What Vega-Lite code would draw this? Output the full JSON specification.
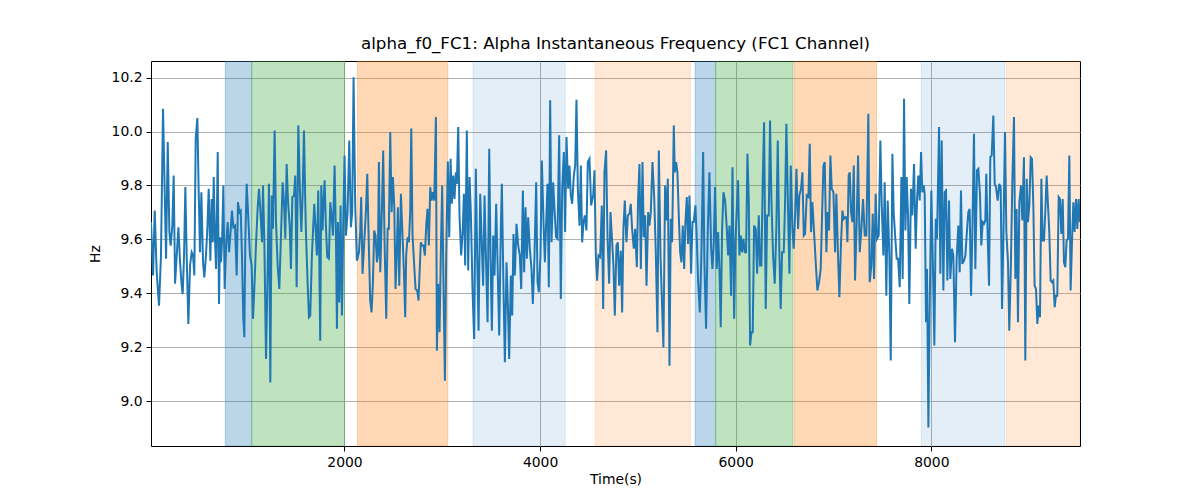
{
  "$schema": "https://vega.github.io/schema/vega-lite/v6.json",
  "width": 929,
  "height": 385,
  "autosize": {"type": "none"},
  "padding": {"left": 151, "top": 61, "right": 120, "bottom": 54},
  "title": {
    "text": "alpha_f0_FC1: Alpha Instantaneous Frequency (FC1 Channel)",
    "fontSize": 16.7,
    "fontWeight": "normal",
    "font": "DejaVu Sans",
    "color": "black",
    "offset": 8
  },
  "datasets": {
    "spans": [
      {"start": 782, "end": 1052, "phase": "A"},
      {"start": 1052, "end": 2000, "phase": "B"},
      {"start": 2133, "end": 3057, "phase": "C"},
      {"start": 3315, "end": 4257, "phase": "D"},
      {"start": 4563, "end": 5536, "phase": "E"},
      {"start": 5585, "end": 5795, "phase": "A"},
      {"start": 5795, "end": 6586, "phase": "B"},
      {"start": 6598, "end": 7440, "phase": "C"},
      {"start": 7897, "end": 8753, "phase": "D"},
      {"start": 8768, "end": 9520, "phase": "E"}
    ],
    "freq": [
      {"t":22,"hz":9.664},{"t":43,"hz":9.466},{"t":60,"hz":9.707},{"t":80,"hz":9.478},{"t":104,"hz":9.354},{"t":124,"hz":9.540},{"t":145,"hz":10.085},{"t":176,"hz":9.528},{"t":193,"hz":9.961},{"t":210,"hz":9.627},
      {"t":223,"hz":9.577},{"t":240,"hz":9.651},{"t":254,"hz":9.837},{"t":268,"hz":9.435},{"t":285,"hz":9.540},{"t":302,"hz":9.645},{"t":319,"hz":9.515},{"t":336,"hz":9.428},{"t":346,"hz":9.397},{"t":360,"hz":9.540},
      {"t":373,"hz":9.794},{"t":390,"hz":9.490},{"t":404,"hz":9.286},{"t":421,"hz":9.503},{"t":438,"hz":9.552},{"t":452,"hz":9.540},{"t":465,"hz":9.466},{"t":479,"hz":9.973},{"t":496,"hz":10.050},{"t":509,"hz":9.788},
      {"t":523,"hz":9.552},{"t":537,"hz":9.775},{"t":554,"hz":9.515},{"t":567,"hz":9.459},{"t":584,"hz":9.540},{"t":598,"hz":9.639},{"t":612,"hz":9.788},{"t":629,"hz":9.521},{"t":642,"hz":9.750},{"t":653,"hz":9.589},
      {"t":663,"hz":9.831},{"t":676,"hz":9.602},{"t":687,"hz":9.490},{"t":697,"hz":9.726},{"t":704,"hz":9.924},{"t":717,"hz":9.360},{"t":728,"hz":9.608},{"t":738,"hz":9.515},{"t":748,"hz":9.589},{"t":762,"hz":9.800},
      {"t":775,"hz":9.416},{"t":792,"hz":9.589},{"t":806,"hz":9.664},{"t":820,"hz":9.552},{"t":833,"hz":9.614},{"t":850,"hz":9.707},{"t":864,"hz":9.645},{"t":881,"hz":9.651},{"t":898,"hz":9.466},{"t":911,"hz":9.738},
      {"t":925,"hz":9.701},{"t":939,"hz":9.707},{"t":952,"hz":9.540},{"t":966,"hz":9.305},{"t":976,"hz":9.237},{"t":986,"hz":9.589},{"t":1000,"hz":9.806},{"t":1017,"hz":9.676},{"t":1034,"hz":9.540},{"t":1051,"hz":9.503},
      {"t":1065,"hz":9.305},{"t":1078,"hz":9.416},{"t":1095,"hz":9.577},{"t":1112,"hz":9.713},{"t":1126,"hz":9.788},{"t":1143,"hz":9.689},{"t":1157,"hz":9.589},{"t":1167,"hz":9.800},{"t":1181,"hz":9.589},{"t":1198,"hz":9.156},
      {"t":1215,"hz":9.490},{"t":1228,"hz":9.806},{"t":1242,"hz":9.069},{"t":1256,"hz":9.763},{"t":1269,"hz":9.639},{"t":1286,"hz":10.004},{"t":1300,"hz":9.664},{"t":1317,"hz":9.503},{"t":1334,"hz":9.416},{"t":1351,"hz":9.614},
      {"t":1368,"hz":9.812},{"t":1382,"hz":9.738},{"t":1395,"hz":9.602},{"t":1409,"hz":9.880},{"t":1423,"hz":9.738},{"t":1440,"hz":9.651},{"t":1453,"hz":9.490},{"t":1467,"hz":9.757},{"t":1484,"hz":9.763},{"t":1497,"hz":9.837},
      {"t":1511,"hz":9.422},{"t":1528,"hz":10.023},{"t":1545,"hz":9.775},{"t":1559,"hz":9.627},{"t":1572,"hz":9.763},{"t":1586,"hz":10.004},{"t":1600,"hz":9.726},{"t":1606,"hz":9.627},{"t":1623,"hz":9.441},{"t":1637,"hz":9.311},
      {"t":1650,"hz":9.317},{"t":1667,"hz":9.540},{"t":1691,"hz":9.732},{"t":1705,"hz":9.639},{"t":1718,"hz":9.540},{"t":1732,"hz":9.781},{"t":1742,"hz":9.540},{"t":1752,"hz":9.224},{"t":1763,"hz":9.800},{"t":1776,"hz":9.633},
      {"t":1786,"hz":9.738},{"t":1797,"hz":9.819},{"t":1810,"hz":9.651},{"t":1824,"hz":9.534},{"t":1841,"hz":9.528},{"t":1855,"hz":9.738},{"t":1868,"hz":9.689},{"t":1882,"hz":9.614},{"t":1899,"hz":9.874},{"t":1913,"hz":9.608},
      {"t":1923,"hz":9.268},{"t":1933,"hz":9.664},{"t":1947,"hz":9.366},{"t":1960,"hz":9.726},{"t":1974,"hz":9.317},{"t":1988,"hz":9.664},{"t":2001,"hz":9.911},{"t":2015,"hz":9.614},{"t":2032,"hz":9.701},{"t":2049,"hz":9.967},
      {"t":2066,"hz":9.645},{"t":2079,"hz":9.701},{"t":2093,"hz":10.202},{"t":2110,"hz":9.726},{"t":2127,"hz":9.521},{"t":2148,"hz":9.552},{"t":2161,"hz":9.627},{"t":2171,"hz":9.757},{"t":2185,"hz":9.472},{"t":2202,"hz":9.589},
      {"t":2219,"hz":9.701},{"t":2233,"hz":9.843},{"t":2250,"hz":9.565},{"t":2263,"hz":9.373},{"t":2277,"hz":9.329},{"t":2291,"hz":9.441},{"t":2304,"hz":9.633},{"t":2318,"hz":9.614},{"t":2332,"hz":9.515},{"t":2342,"hz":9.540},
      {"t":2352,"hz":9.887},{"t":2366,"hz":9.478},{"t":2383,"hz":9.713},{"t":2396,"hz":9.930},{"t":2410,"hz":9.589},{"t":2427,"hz":9.305},{"t":2441,"hz":9.639},{"t":2454,"hz":9.639},{"t":2468,"hz":9.998},{"t":2482,"hz":9.701},
      {"t":2495,"hz":9.831},{"t":2509,"hz":9.726},{"t":2522,"hz":9.416},{"t":2536,"hz":9.565},{"t":2546,"hz":9.719},{"t":2560,"hz":9.428},{"t":2577,"hz":9.769},{"t":2591,"hz":9.639},{"t":2608,"hz":9.478},{"t":2621,"hz":9.311},
      {"t":2631,"hz":9.540},{"t":2645,"hz":9.608},{"t":2659,"hz":9.589},{"t":2672,"hz":9.701},{"t":2683,"hz":10.011},{"t":2696,"hz":9.614},{"t":2713,"hz":9.503},{"t":2727,"hz":9.416},{"t":2744,"hz":9.410},{"t":2757,"hz":9.373},
      {"t":2768,"hz":9.478},{"t":2781,"hz":9.589},{"t":2795,"hz":9.577},{"t":2809,"hz":9.577},{"t":2822,"hz":9.540},{"t":2836,"hz":9.651},{"t":2849,"hz":9.713},{"t":2863,"hz":9.577},{"t":2877,"hz":9.794},{"t":2890,"hz":9.744},
      {"t":2904,"hz":9.775},{"t":2918,"hz":9.744},{"t":2935,"hz":10.054},{"t":2945,"hz":9.187},{"t":2958,"hz":9.435},{"t":2972,"hz":9.255},{"t":2986,"hz":9.565},{"t":2999,"hz":9.800},{"t":3013,"hz":9.416},{"t":3027,"hz":9.075},
      {"t":3040,"hz":9.540},{"t":3057,"hz":9.889},{"t":3071,"hz":9.608},{"t":3085,"hz":9.899},{"t":3098,"hz":9.732},{"t":3112,"hz":9.837},{"t":3125,"hz":9.750},{"t":3139,"hz":9.849},{"t":3149,"hz":9.806},{"t":3163,"hz":10.017},
      {"t":3176,"hz":9.689},{"t":3193,"hz":9.540},{"t":3210,"hz":9.639},{"t":3221,"hz":9.769},{"t":3234,"hz":9.503},{"t":3251,"hz":10.004},{"t":3265,"hz":9.484},{"t":3279,"hz":9.831},{"t":3292,"hz":9.701},{"t":3309,"hz":9.416},
      {"t":3326,"hz":9.230},{"t":3343,"hz":9.862},{"t":3357,"hz":9.540},{"t":3371,"hz":9.261},{"t":3388,"hz":9.769},{"t":3405,"hz":9.565},{"t":3418,"hz":9.428},{"t":3432,"hz":9.763},{"t":3446,"hz":9.540},{"t":3463,"hz":9.292},
      {"t":3480,"hz":9.936},{"t":3493,"hz":9.540},{"t":3507,"hz":9.261},{"t":3521,"hz":9.614},{"t":3534,"hz":9.466},{"t":3551,"hz":9.732},{"t":3565,"hz":9.515},{"t":3582,"hz":9.243},{"t":3599,"hz":9.651},{"t":3609,"hz":9.806},
      {"t":3626,"hz":9.416},{"t":3640,"hz":9.144},{"t":3657,"hz":9.515},{"t":3670,"hz":9.366},{"t":3684,"hz":9.156},{"t":3701,"hz":9.466},{"t":3715,"hz":9.317},{"t":3728,"hz":9.620},{"t":3742,"hz":9.466},{"t":3759,"hz":9.658},
      {"t":3776,"hz":9.577},{"t":3793,"hz":9.540},{"t":3807,"hz":9.416},{"t":3824,"hz":9.781},{"t":3837,"hz":9.478},{"t":3851,"hz":9.719},{"t":3865,"hz":9.528},{"t":3878,"hz":9.682},{"t":3895,"hz":9.565},{"t":3912,"hz":9.490},
      {"t":3926,"hz":9.360},{"t":3943,"hz":9.540},{"t":3960,"hz":9.812},{"t":3974,"hz":9.441},{"t":3987,"hz":9.404},{"t":4004,"hz":9.540},{"t":4018,"hz":9.893},{"t":4035,"hz":9.664},{"t":4049,"hz":9.515},{"t":4062,"hz":9.658},
      {"t":4076,"hz":9.806},{"t":4089,"hz":9.422},{"t":4103,"hz":10.116},{"t":4117,"hz":9.589},{"t":4134,"hz":9.812},{"t":4147,"hz":9.713},{"t":4164,"hz":9.608},{"t":4178,"hz":9.602},{"t":4195,"hz":9.986},{"t":4212,"hz":9.379},
      {"t":4226,"hz":9.788},{"t":4243,"hz":9.924},{"t":4256,"hz":9.627},{"t":4270,"hz":9.980},{"t":4287,"hz":9.788},{"t":4301,"hz":9.874},{"t":4314,"hz":9.763},{"t":4328,"hz":9.732},{"t":4345,"hz":9.837},{"t":4359,"hz":9.874},
      {"t":4372,"hz":10.118},{"t":4386,"hz":9.788},{"t":4403,"hz":9.651},{"t":4417,"hz":9.874},{"t":4430,"hz":9.589},{"t":4444,"hz":9.664},{"t":4457,"hz":9.689},{"t":4474,"hz":9.633},{"t":4488,"hz":9.887},{"t":4505,"hz":9.899},
      {"t":4522,"hz":9.726},{"t":4543,"hz":9.763},{"t":4556,"hz":9.856},{"t":4570,"hz":9.540},{"t":4583,"hz":9.447},{"t":4597,"hz":9.540},{"t":4614,"hz":9.534},{"t":4631,"hz":9.726},{"t":4645,"hz":9.342},{"t":4658,"hz":9.849},
      {"t":4675,"hz":9.930},{"t":4689,"hz":9.614},{"t":4706,"hz":9.435},{"t":4720,"hz":9.701},{"t":4737,"hz":9.589},{"t":4750,"hz":9.503},{"t":4764,"hz":9.317},{"t":4781,"hz":9.577},{"t":4795,"hz":9.589},{"t":4808,"hz":9.428},
      {"t":4825,"hz":9.558},{"t":4839,"hz":9.329},{"t":4852,"hz":9.639},{"t":4866,"hz":9.744},{"t":4883,"hz":9.589},{"t":4897,"hz":9.689},{"t":4914,"hz":9.695},{"t":4927,"hz":9.732},{"t":4941,"hz":9.639},{"t":4958,"hz":9.565},
      {"t":4972,"hz":9.639},{"t":4989,"hz":9.497},{"t":5002,"hz":9.750},{"t":5016,"hz":9.880},{"t":5030,"hz":9.490},{"t":5047,"hz":9.887},{"t":5060,"hz":9.608},{"t":5074,"hz":9.689},{"t":5088,"hz":9.428},{"t":5105,"hz":9.701},
      {"t":5118,"hz":9.651},{"t":5132,"hz":9.701},{"t":5149,"hz":9.887},{"t":5166,"hz":9.763},{"t":5183,"hz":9.552},{"t":5200,"hz":9.255},{"t":5214,"hz":9.930},{"t":5231,"hz":9.540},{"t":5244,"hz":9.391},{"t":5261,"hz":9.199},
      {"t":5278,"hz":9.800},{"t":5292,"hz":9.670},{"t":5306,"hz":9.825},{"t":5323,"hz":9.131},{"t":5336,"hz":9.676},{"t":5350,"hz":9.589},{"t":5367,"hz":10.023},{"t":5377,"hz":9.849},{"t":5391,"hz":9.887},{"t":5404,"hz":9.849},
      {"t":5418,"hz":9.689},{"t":5432,"hz":9.552},{"t":5445,"hz":9.515},{"t":5459,"hz":9.651},{"t":5473,"hz":9.490},{"t":5486,"hz":9.664},{"t":5500,"hz":9.757},{"t":5513,"hz":9.583},{"t":5527,"hz":9.763},{"t":5544,"hz":9.472},
      {"t":5558,"hz":9.664},{"t":5571,"hz":9.664},{"t":5588,"hz":9.726},{"t":5602,"hz":9.602},{"t":5616,"hz":9.441},{"t":5633,"hz":9.329},{"t":5650,"hz":9.552},{"t":5667,"hz":9.924},{"t":5680,"hz":9.515},{"t":5697,"hz":9.268},
      {"t":5714,"hz":9.627},{"t":5731,"hz":9.849},{"t":5749,"hz":9.565},{"t":5762,"hz":9.490},{"t":5776,"hz":9.589},{"t":5789,"hz":9.794},{"t":5806,"hz":9.490},{"t":5820,"hz":9.627},{"t":5834,"hz":9.484},{"t":5847,"hz":9.274},
      {"t":5861,"hz":9.639},{"t":5875,"hz":9.775},{"t":5892,"hz":9.744},{"t":5909,"hz":9.639},{"t":5922,"hz":9.540},{"t":5936,"hz":9.651},{"t":5953,"hz":9.391},{"t":5967,"hz":9.868},{"t":5984,"hz":9.305},{"t":5997,"hz":9.589},
      {"t":6011,"hz":9.713},{"t":6024,"hz":9.819},{"t":6038,"hz":9.540},{"t":6052,"hz":9.614},{"t":6065,"hz":9.552},{"t":6079,"hz":9.602},{"t":6093,"hz":9.552},{"t":6106,"hz":9.552},{"t":6120,"hz":9.918},{"t":6134,"hz":9.738},
      {"t":6147,"hz":9.206},{"t":6161,"hz":9.255},{"t":6174,"hz":9.255},{"t":6188,"hz":9.651},{"t":6205,"hz":9.639},{"t":6219,"hz":9.472},{"t":6236,"hz":9.689},{"t":6249,"hz":9.503},{"t":6263,"hz":9.503},{"t":6276,"hz":9.812},
      {"t":6290,"hz":10.035},{"t":6307,"hz":9.342},{"t":6321,"hz":9.689},{"t":6338,"hz":9.689},{"t":6351,"hz":10.041},{"t":6365,"hz":9.750},{"t":6382,"hz":9.540},{"t":6399,"hz":9.435},{"t":6416,"hz":9.651},{"t":6430,"hz":9.967},
      {"t":6447,"hz":9.540},{"t":6460,"hz":9.342},{"t":6474,"hz":9.552},{"t":6491,"hz":9.552},{"t":6505,"hz":9.738},{"t":6518,"hz":10.029},{"t":6535,"hz":9.713},{"t":6549,"hz":9.472},{"t":6563,"hz":9.874},{"t":6580,"hz":9.639},
      {"t":6593,"hz":9.565},{"t":6607,"hz":9.689},{"t":6621,"hz":9.862},{"t":6638,"hz":9.639},{"t":6651,"hz":9.763},{"t":6668,"hz":9.788},{"t":6682,"hz":9.849},{"t":6696,"hz":9.614},{"t":6709,"hz":9.620},{"t":6726,"hz":9.763},
      {"t":6743,"hz":9.757},{"t":6757,"hz":9.955},{"t":6770,"hz":9.627},{"t":6784,"hz":9.738},{"t":6801,"hz":9.627},{"t":6818,"hz":9.515},{"t":6835,"hz":9.410},{"t":6852,"hz":9.441},{"t":6869,"hz":9.490},{"t":6883,"hz":9.689},
      {"t":6897,"hz":9.874},{"t":6910,"hz":9.887},{"t":6927,"hz":9.552},{"t":6941,"hz":9.701},{"t":6954,"hz":9.633},{"t":6968,"hz":9.911},{"t":6982,"hz":9.788},{"t":6999,"hz":9.775},{"t":7016,"hz":9.552},{"t":7029,"hz":9.769},
      {"t":7046,"hz":9.540},{"t":7060,"hz":9.385},{"t":7077,"hz":9.589},{"t":7091,"hz":9.707},{"t":7104,"hz":9.676},{"t":7118,"hz":9.682},{"t":7132,"hz":9.682},{"t":7142,"hz":9.589},{"t":7155,"hz":9.837},{"t":7166,"hz":9.849},
      {"t":7179,"hz":9.701},{"t":7193,"hz":9.664},{"t":7207,"hz":9.874},{"t":7220,"hz":9.447},{"t":7237,"hz":9.664},{"t":7251,"hz":9.911},{"t":7268,"hz":9.552},{"t":7285,"hz":9.639},{"t":7302,"hz":9.750},{"t":7319,"hz":9.614},
      {"t":7336,"hz":9.614},{"t":7356,"hz":10.066},{"t":7370,"hz":9.441},{"t":7387,"hz":9.503},{"t":7401,"hz":9.695},{"t":7414,"hz":9.453},{"t":7431,"hz":9.769},{"t":7445,"hz":9.602},{"t":7462,"hz":9.614},{"t":7479,"hz":9.967},
      {"t":7493,"hz":9.726},{"t":7510,"hz":9.540},{"t":7523,"hz":9.812},{"t":7540,"hz":9.391},{"t":7554,"hz":9.744},{"t":7571,"hz":9.540},{"t":7585,"hz":9.150},{"t":7602,"hz":9.918},{"t":7615,"hz":9.701},{"t":7632,"hz":9.602},
      {"t":7646,"hz":9.528},{"t":7660,"hz":9.528},{"t":7677,"hz":9.422},{"t":7694,"hz":9.831},{"t":7707,"hz":9.453},{"t":7721,"hz":10.122},{"t":7735,"hz":9.633},{"t":7748,"hz":9.831},{"t":7762,"hz":9.689},{"t":7775,"hz":9.360},
      {"t":7792,"hz":9.788},{"t":7806,"hz":9.689},{"t":7823,"hz":9.880},{"t":7840,"hz":9.565},{"t":7854,"hz":9.750},{"t":7867,"hz":9.837},{"t":7881,"hz":9.744},{"t":7895,"hz":9.924},{"t":7908,"hz":9.775},{"t":7922,"hz":9.800},
      {"t":7932,"hz":9.769},{"t":7946,"hz":9.292},{"t":7956,"hz":9.490},{"t":7970,"hz":8.902},{"t":7983,"hz":9.342},{"t":8000,"hz":9.781},{"t":8017,"hz":9.490},{"t":8031,"hz":9.206},{"t":8045,"hz":9.676},{"t":8058,"hz":9.602},
      {"t":8079,"hz":10.017},{"t":8092,"hz":9.472},{"t":8106,"hz":9.967},{"t":8123,"hz":9.410},{"t":8137,"hz":9.775},{"t":8150,"hz":9.781},{"t":8164,"hz":9.447},{"t":8181,"hz":9.744},{"t":8194,"hz":9.453},{"t":8211,"hz":9.565},
      {"t":8225,"hz":9.540},{"t":8242,"hz":9.218},{"t":8259,"hz":9.528},{"t":8276,"hz":9.651},{"t":8290,"hz":9.478},{"t":8303,"hz":9.781},{"t":8317,"hz":9.509},{"t":8334,"hz":9.521},{"t":8348,"hz":9.540},{"t":8361,"hz":9.614},
      {"t":8378,"hz":9.701},{"t":8392,"hz":9.713},{"t":8406,"hz":9.391},{"t":8419,"hz":9.614},{"t":8436,"hz":9.992},{"t":8450,"hz":9.490},{"t":8467,"hz":9.856},{"t":8481,"hz":9.862},{"t":8498,"hz":9.763},{"t":8511,"hz":9.577},
      {"t":8525,"hz":9.664},{"t":8539,"hz":9.658},{"t":8552,"hz":9.670},{"t":8562,"hz":9.843},{"t":8576,"hz":9.614},{"t":8590,"hz":9.428},{"t":8603,"hz":9.905},{"t":8617,"hz":9.911},{"t":8634,"hz":10.060},{"t":8648,"hz":9.806},
      {"t":8661,"hz":9.794},{"t":8678,"hz":9.744},{"t":8695,"hz":9.806},{"t":8709,"hz":9.794},{"t":8723,"hz":9.342},{"t":8736,"hz":9.596},{"t":8753,"hz":9.998},{"t":8767,"hz":9.627},{"t":8784,"hz":9.515},{"t":8797,"hz":9.261},
      {"t":8814,"hz":9.515},{"t":8828,"hz":9.812},{"t":8845,"hz":10.054},{"t":8859,"hz":9.453},{"t":8872,"hz":9.713},{"t":8886,"hz":9.292},{"t":8900,"hz":9.738},{"t":8917,"hz":9.800},{"t":8930,"hz":9.670},{"t":8947,"hz":9.905},
      {"t":8961,"hz":9.150},{"t":8975,"hz":9.825},{"t":8988,"hz":9.664},{"t":9002,"hz":9.726},{"t":9016,"hz":9.905},{"t":9029,"hz":9.899},{"t":9043,"hz":9.726},{"t":9056,"hz":9.428},{"t":9070,"hz":9.416},{"t":9084,"hz":9.286},
      {"t":9097,"hz":9.354},{"t":9111,"hz":9.311},{"t":9125,"hz":9.825},{"t":9138,"hz":9.596},{"t":9152,"hz":9.596},{"t":9165,"hz":9.701},{"t":9179,"hz":9.837},{"t":9193,"hz":9.726},{"t":9206,"hz":9.627},{"t":9220,"hz":9.447},
      {"t":9234,"hz":9.441},{"t":9247,"hz":9.447},{"t":9261,"hz":9.348},{"t":9274,"hz":9.391},{"t":9288,"hz":9.391},{"t":9302,"hz":9.757},{"t":9315,"hz":9.750},{"t":9329,"hz":9.620},{"t":9343,"hz":9.750},{"t":9356,"hz":9.515},
      {"t":9370,"hz":9.497},{"t":9383,"hz":9.596},{"t":9397,"hz":9.602},{"t":9411,"hz":9.911},{"t":9424,"hz":9.410},{"t":9438,"hz":9.589},{"t":9452,"hz":9.738},{"t":9465,"hz":9.627},{"t":9479,"hz":9.750},{"t":9493,"hz":9.639},
      {"t":9506,"hz":9.750},{"t":9520,"hz":9.664}
    ]
  },
  "layer": [
    {
      "data": {"name": "spans"},
      "mark": {"type": "rect", "clip": true, "strokeWidth": 1},
      "encoding": {
        "x": {
          "field": "start",
          "type": "quantitative",
          "scale": {"domain": [22, 9520], "nice": false, "zero": false},
          "axis": {"title": "Time(s)", "values": [2000, 4000, 6000, 8000], "format": "d"}
        },
        "x2": {"field": "end"},
        "color": {
          "field": "phase",
          "type": "nominal",
          "scale": {
            "domain": ["A", "B", "C", "D", "E"],
            "range": ["rgba(31,119,180,0.3)", "rgba(44,160,44,0.3)", "rgba(255,127,14,0.3)", "rgba(31,119,180,0.12)", "rgba(255,127,14,0.17)"]
          },
          "legend": null
        },
        "stroke": {
          "field": "phase",
          "type": "nominal",
          "scale": {
            "domain": ["A", "B", "C", "D", "E"],
            "range": ["rgba(31,119,180,0.3)", "rgba(44,160,44,0.3)", "rgba(255,127,14,0.3)", "rgba(31,119,180,0.12)", "rgba(255,127,14,0.17)"]
          },
          "legend": null
        }
      }
    },
    {
      "data": {"name": "freq"},
      "mark": {"type": "line", "color": "#1f77b4", "strokeWidth": 2, "clip": true},
      "encoding": {
        "x": {"field": "t", "type": "quantitative"},
        "y": {
          "field": "hz",
          "type": "quantitative",
          "scale": {"domain": [8.833, 10.262], "nice": false, "zero": false},
          "axis": {"title": "Hz", "values": [9.0, 9.2, 9.4, 9.6, 9.8, 10.0, 10.2], "format": ".1f"}
        }
      }
    }
  ],
  "config": {
    "font": "DejaVu Sans",
    "view": {"stroke": "black", "strokeWidth": 1},
    "axis": {
      "domain": false,
      "grid": true,
      "gridColor": "#b0b0b0",
      "gridWidth": 1,
      "tickColor": "black",
      "tickSize": 5,
      "tickWidth": 1,
      "labelFont": "DejaVu Sans",
      "labelFontSize": 13.9,
      "labelColor": "black",
      "labelPadding": 4,
      "titleFont": "DejaVu Sans",
      "titleFontSize": 13.9,
      "titleFontWeight": "normal",
      "titleColor": "black"
    },
    "axisX": {"titlePadding": 4},
    "axisY": {"titlePadding": 9}
  }
}
